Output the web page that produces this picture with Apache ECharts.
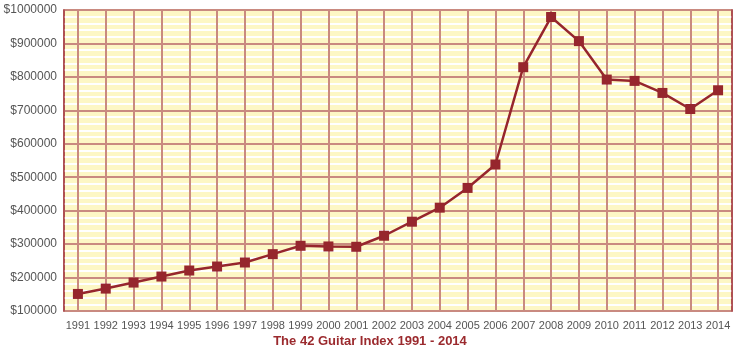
<!DOCTYPE html>
<html>
<head>
  <meta charset="utf-8">
  <script src="https://cdn.jsdelivr.net/npm/echarts@6/dist/echarts.min.js"></script>
  <style>
    html, body { margin: 0; padding: 0; background: #fff; }
    #main { width: 740px; height: 349px; }
  </style>
</head>
<body>
  <div id="main"></div>
  <script type="text/javascript">
    var years = ['1991', '1992', '1993', '1994', '1995', '1996', '1997', '1998', '1999', '2000', '2001', '2002',
      '2003', '2004', '2005', '2006', '2007', '2008', '2009', '2010', '2011', '2012', '2013', '2014'];
    var indexValues = [151000, 167000, 185000, 203000, 221000, 233000, 245000, 270000, 295000, 293000, 292000, 325000,
      367000, 409000, 468000, 538000, 829000, 979000, 907000, 792000, 788000, 752000, 704000, 760000];
    var chartTitle = 'The 42 Guitar Index 1991 - 2014';

    var labelFont = "'Liberation Sans', Arial, sans-serif";
    var gridColor = '#c98a80';
    var borderColor = '#a9454a';
    var chart = echarts.init(document.getElementById('main'));

    // plain axis used only to draw the left / right frame above the white stripes
    function edgeAxis(pos) {
      return {
        type: 'value', position: pos, min: 100000, max: 1000000, interval: 100000, z: 4,
        axisLine: { show: true, lineStyle: { color: borderColor, width: 1.5 } },
        axisTick: { show: false }, axisLabel: { show: false }, splitLine: { show: false }
      };
    }

    var option = {
      animation: false,
      backgroundColor: '#ffffff',
      title: {
        text: chartTitle,
        left: 'center',
        top: 330,
        textStyle: { color: '#9b2a2e', fontSize: 13, fontWeight: 'bold', fontFamily: labelFont }
      },
      grid: {
        left: 64, right: 8, top: 10, bottom: 38,
        outerBoundsMode: 'none',
        containLabel: false,
        show: true,
        backgroundColor: '#fdf7c5',
        borderColor: borderColor,
        borderWidth: 1.5
      },
      xAxis: {
        type: 'category',
        data: years,
        boundaryGap: true,
        z: 2,
        axisLine: { show: false },
        axisTick: { show: false },
        axisLabel: { interval: 0, color: '#555', fontSize: 11, fontFamily: labelFont, margin: 9 },
        splitLine: { show: true, interval: 0, alignWithLabel: true, lineStyle: { color: gridColor, width: 2 } }
      },
      yAxis: [{
        type: 'value',
        min: 100000,
        max: 1000000,
        interval: 100000,
        z: 0,
        axisLine: { show: false },
        axisTick: { show: false },
        axisLabel: {
          color: '#555', fontSize: 12, fontFamily: labelFont, margin: 7,
          formatter: function (v) { return '$' + v; }
        },
        splitLine: { show: true, lineStyle: { color: gridColor, width: 2 } },
        minorTick: { show: false, splitNumber: 5 },
        minorSplitLine: { show: true, lineStyle: { color: '#ffffff', width: 1.8 } }
      }, edgeAxis('left'), edgeAxis('right')],
      series: [{
        type: 'line',
        data: indexValues,
        yAxisIndex: 0,
        symbol: 'rect',
        symbolSize: 10,
        lineStyle: { color: '#96262d', width: 2.5 },
        itemStyle: { color: '#96262d' },
        z: 5
      }]
    };
    chart.setOption(option);
  </script>
</body>
</html>
